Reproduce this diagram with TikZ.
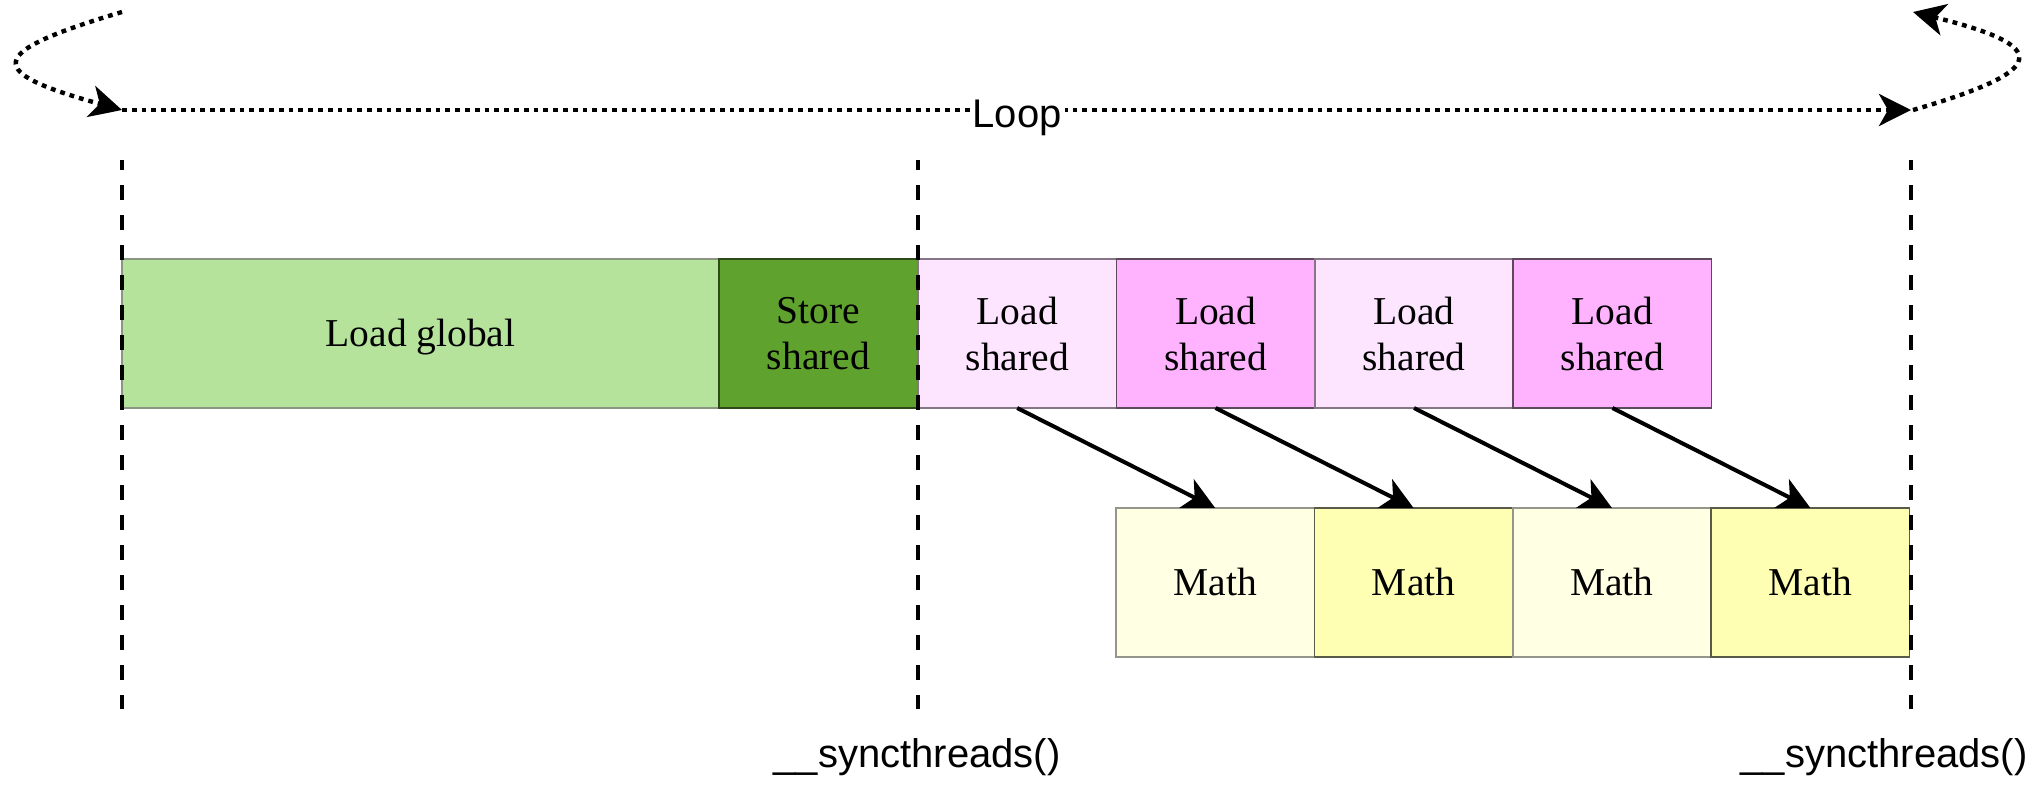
\documentclass[tikz,border=0pt]{standalone}
\usepackage{fontspec}
\setmainfont{Liberation Serif}
\newfontfamily\lsans{Liberation Sans}
\usetikzlibrary{arrows.meta}
\definecolor{lgfill}{HTML}{B6E39B}
\definecolor{lgdraw}{HTML}{8A9682}
\definecolor{ssfill}{HTML}{60A22E}
\definecolor{ssdraw}{HTML}{2D4A17}
\definecolor{lsAfill}{HTML}{FDE4FF}
\definecolor{lsAdraw}{HTML}{857585}
\definecolor{lsBfill}{HTML}{FFB3FF}
\definecolor{lsBdraw}{HTML}{5C4A5C}
\definecolor{mAfill}{HTML}{FFFFE4}
\definecolor{mAdraw}{HTML}{95958C}
\definecolor{mBfill}{HTML}{FFFFB3}
\definecolor{mBdraw}{HTML}{5A5A48}
\newcommand\onelinetext[1]{\raisebox{-6.3pt}[0pt][0pt]{#1}}
\tikzset{
  blk/.style={draw, line width=0.75pt, inner sep=0pt, outer sep=0pt,
    minimum height=74.5pt, align=center, font=\fontsize{19.75}{23}\selectfont},
  blkw/.style={blk, minimum width=99.2pt},
  lsA/.style={blkw, fill=lsAfill, draw=lsAdraw},
  lsB/.style={blkw, fill=lsBfill, draw=lsBdraw},
  mA/.style={blkw, fill=mAfill, draw=mAdraw},
  mB/.style={blkw, fill=mBfill, draw=mBdraw},
  arrowtip/.style={-{Stealth[length=16pt,width=16pt,inset=4.5pt]}},
  flow/.style={line width=2pt, arrowtip},
  loopline/.style={line width=2.2pt, dash pattern=on 2.4pt off 2.5pt, arrowtip},
  syncline/.style={line width=1.9pt, dash pattern=on 7.5pt off 7.5pt, dash phase=2.5pt},
  lbl/.style={font=\lsans\fontsize{20}{24}\selectfont, inner sep=0pt}
}
\begin{document}
\begin{tikzpicture}[x=0.5pt,y=-0.5pt]
\useasboundingbox (0,0) rectangle (2040,788);

% top row
\node[blk, fill=lgfill, draw=lgdraw, minimum width=298.5pt] (lg) at (420.5,333.5) {\onelinetext{Load global}};
\node[blk, fill=ssfill, draw=ssdraw, minimum width=99.5pt] (ss) at (818.5,333.5) {Store\\shared};
\node[lsA] (ls1) at (1017.2,333.5) {Load\\shared};
\node[lsB] (ls2) at (1215.6,333.5) {Load\\shared};
\node[lsA] (ls3) at (1414.0,333.5) {Load\\shared};
\node[lsB] (ls4) at (1612.4,333.5) {Load\\shared};

% math row
\node[mA] (m1) at (1215.2,582.5) {\onelinetext{Math}};
\node[mB] (m2) at (1413.6,582.5) {\onelinetext{Math}};
\node[mA] (m3) at (1612.0,582.5) {\onelinetext{Math}};
\node[mB] (m4) at (1810.4,582.5) {\onelinetext{Math}};

% arrows
\draw[flow] (ls1.south) -- (m1.north);
\draw[flow] (ls2.south) -- (m2.north);
\draw[flow] (ls3.south) -- (m3.north);
\draw[flow] (ls4.south) -- (m4.north);

% sync lines
\coordinate (t1) at (122,160); \coordinate (b1) at (122,709);
\coordinate (t2) at (918,160); \coordinate (b2) at (918,709);
\coordinate (t3) at (1911,160); \coordinate (b3) at (1911,709);
\draw[syncline] (t1) -- (b1);
\draw[syncline] (t2) -- (b2);
\draw[syncline] (t3) -- (b3);

% loop
\coordinate (lpLtop) at (122,12);
\coordinate (lpL) at (122,110);
\coordinate (lpR) at (1911,110);
\coordinate (lpRs) at (1913,110);
\coordinate (lpRtop) at (1913,12);
\draw[loopline] (lpLtop) .. controls (-16,53) and (-16,72) .. (lpL);
\draw[loopline] (lpL) -- (lpR);
\draw[loopline] (lpRs) .. controls (2051,70) and (2051,46) .. (lpRtop);
\node[lbl, fill=white, inner xsep=1.5pt, anchor=base] (loop) at (1017,127) {Loop};

% labels
\node[lbl, anchor=base] (s1) at (917,767) {\_\_syncthreads()};
\node[lbl, anchor=base] (s2) at (1884,767) {\_\_syncthreads()};
\end{tikzpicture}
\end{document}
